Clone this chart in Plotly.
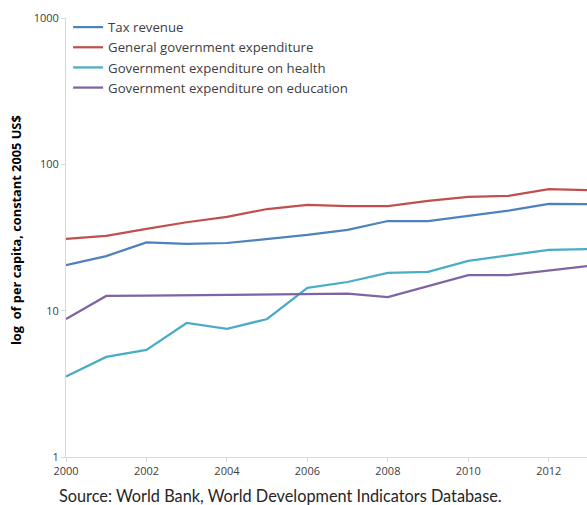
import plotly.graph_objects as go

years = list(range(2000, 2014))
tax_revenue = [20.5, 23.6, 29.3, 28.6, 29.0, 30.9, 32.9, 35.6, 41.0, 41.0, 44.4, 48.2, 53.6, 53.4]
gen_gov_exp = [30.9, 32.4, 36.2, 40.2, 43.7, 49.5, 52.8, 51.8, 51.8, 56.2, 59.9, 60.8, 67.6, 66.6]
health_exp = [3.55, 4.83, 5.39, 8.24, 7.5, 8.77, 14.3, 15.7, 18.1, 18.4, 21.9, 24.0, 26.0, 26.3]
education_exp = [8.77, 12.6, 12.65, 12.7, 12.8, 12.85, 13.0, 13.05, 12.4, 14.8, 17.5, 17.5, 18.7, 20.2]

names = ["Tax revenue", "General government expenditure",
         "Government expenditure on health", "Government expenditure on education"]
series = [tax_revenue, gen_gov_exp, health_exp, education_exp]
colors = ["#4F81BD", "#C0504D", "#4BACC6", "#8064A2"]

y_ticks = [1, 10, 100, 1000]
x_ticks = [2000, 2002, 2004, 2006, 2008, 2010, 2012]

fig = go.Figure()
for n, s, c in zip(names, series, colors):
    fig.add_trace(go.Scatter(x=years, y=s, name=n, mode="lines",
                             line=dict(color=c, width=2.25)))

fig.update_layout(
    width=587, height=505,
    margin=dict(l=66, r=0, t=18, b=48),
    paper_bgcolor="white", plot_bgcolor="white",
    font=dict(family="Open Sans", size=11, color="#404040"),
    showlegend=True,
    legend=dict(x=0.004, y=1.0136, xanchor="left", yanchor="top",
                font=dict(size=13.2, color="#404040"), bgcolor="rgba(0,0,0,0)",
                itemwidth=30, tracegroupgap=0),
    xaxis=dict(range=[2000, 2012.95], tickvals=x_ticks, ticktext=[str(t) for t in x_ticks],
               showgrid=False, zeroline=False, showline=True, linecolor="#d9d9d9",
               linewidth=1, ticks="outside", ticklen=4, tickcolor="#d9d9d9",
               tickfont=dict(size=11, color="#404040")),
    yaxis=dict(type="log", range=[0, 3], tickvals=y_ticks, ticktext=[str(t) for t in y_ticks],
               showgrid=False, zeroline=False, showline=True, linecolor="#d9d9d9",
               linewidth=1, ticks="outside", ticklen=4, tickcolor="#d9d9d9",
               tickfont=dict(size=11, color="#404040")),
    annotations=[
        dict(text="<b>log  of per capita, constant 2005 US$</b>", xref="paper", yref="paper",
             x=0, y=0.517, xanchor="center", yanchor="middle", xshift=-50, textangle=-90,
             showarrow=False, font=dict(size=12.8, color="#000000")),
        dict(text="Source: World Bank, World Development Indicators Database.", xref="paper",
             yref="paper", x=0, y=0, xanchor="left", yanchor="middle", xshift=-9, yshift=-38,
             showarrow=False, font=dict(family="Lato", size=16.3, color="#262626")),
    ],
)

fig.write_html(
    "out.html",
    config={"displayModeBar": False},
    post_script="document.body.style.margin='0';document.documentElement.style.overflow='hidden';",
)
